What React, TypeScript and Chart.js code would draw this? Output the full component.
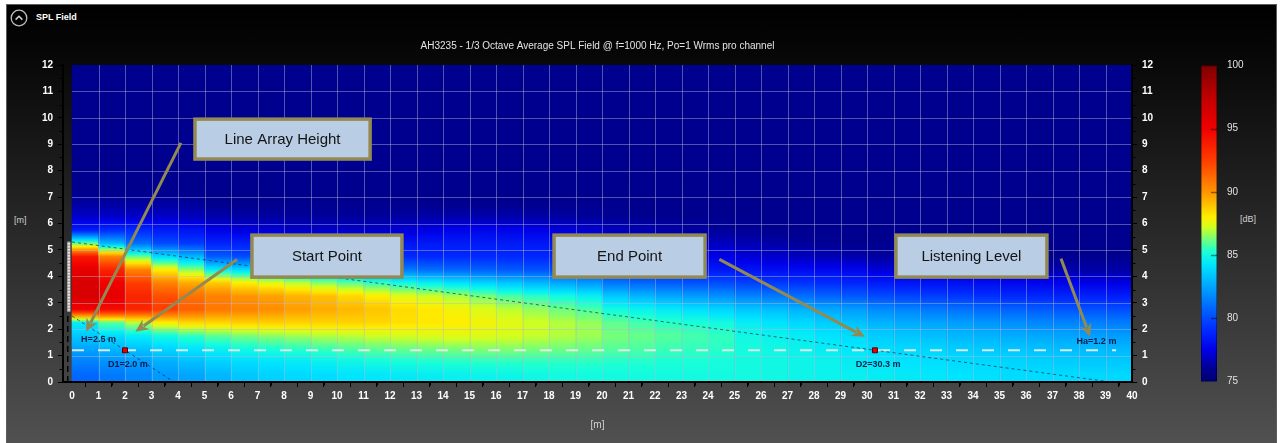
import React, { useEffect, useRef } from 'react';
import { Chart, registerables } from 'chart.js';

Chart.register(...registerables);

// ---------------- data ----------------
const chartTitle = 'AH3235 - 1/3 Octave Average SPL Field @ f=1000 Hz, Po=1 Wrms pro channel';
const xTickValues = [0, 1, 2, 3, 4, 5, 6, 7, 8, 9, 10, 11, 12, 13, 14, 15, 16, 17, 18, 19, 20, 21, 22, 23, 24, 25, 26, 27, 28, 29, 30, 31, 32, 33, 34, 35, 36, 37, 38, 39, 40];
const yTickValues = [0, 1, 2, 3, 4, 5, 6, 7, 8, 9, 10, 11, 12];
const cbTickValues = [75, 80, 85, 90, 95, 100];

// distance [m] of each field column centre
const cellCentresX = [0.5, 1.5, 2.5, 3.5, 4.5, 5.5, 6.5, 7.5, 8.5, 9.5, 10.5, 11.5, 12.5, 13.5, 14.5, 15.5, 16.5, 17.5, 18.5, 19.5, 20.5, 21.5, 22.5, 23.5, 24.5, 25.5, 26.5, 27.5, 28.5, 29.5, 30.5, 31.5, 32.5, 33.5, 34.5, 35.5, 36.5, 37.5, 38.5, 39.5];
// height [m] of each field row centre
const cellCentresY = [0.25, 0.75, 1.25, 1.75, 2.25, 2.75, 3.25, 3.75, 4.25, 4.75, 5.25, 5.75, 6.25, 6.75, 7.25, 7.75, 8.25, 8.75, 9.25, 9.75, 10.25, 10.75, 11.25, 11.75];
const fieldHeightRange = [0, 12];

// SPL [dB] per column (bottom row first)
const splByColumn: number[][] = [
  [80.8, 81.5, 82.5, 83.5, 84.5, 95, 96.2, 96.2, 95.5, 94, 86, 78.5, 77, 76.3, 76, 76, 76, 76, 76, 76, 76, 76, 76, 76],
  [81.3, 82, 83, 84, 86, 94.5, 95.5, 95, 93.5, 90.5, 83, 79, 77, 76.3, 76, 76, 76, 76, 76, 76, 76, 76, 76, 76],
  [81.7, 82.3, 83.3, 84.5, 87, 93.5, 93.5, 92.5, 90.5, 86, 81, 79, 77, 76.3, 76, 76, 76, 76, 76, 76, 76, 76, 76, 76],
  [82.2, 82.8, 83.8, 85, 88, 92.5, 92, 90.5, 88, 84, 80, 78.5, 77, 76.3, 76, 76, 76, 76, 76, 76, 76, 76, 76, 76],
  [82.5, 83.2, 84.2, 85.5, 88.5, 91.5, 91, 89.5, 86.5, 83, 79.5, 78.2, 76.8, 76.2, 76, 76, 76, 76, 76, 76, 76, 76, 76, 76],
  [83, 83.7, 84.6, 86, 88.5, 90.8, 90.5, 88.8, 84.5, 80.5, 78.8, 77.5, 76.5, 76, 76, 76, 76, 76, 76, 76, 76, 76, 76, 76],
  [83.4, 84, 85, 86.3, 88.7, 90.5, 90, 88, 84, 80, 78.7, 77.3, 76.4, 76, 76, 76, 76, 76, 76, 76, 76, 76, 76, 76],
  [83.7, 84.2, 85.2, 86.5, 88.7, 90.2, 89.7, 87.5, 83.5, 79.8, 78.6, 77.2, 76.3, 76, 76, 76, 76, 76, 76, 76, 76, 76, 76, 76],
  [83.9, 84.4, 85.4, 86.7, 88.6, 89.8, 89.3, 87, 83, 79.6, 78.5, 77, 76.2, 76, 76, 76, 76, 76, 76, 76, 76, 76, 76, 76],
  [84, 84.6, 85.6, 86.9, 88.6, 89.5, 89, 86.5, 82.5, 79.4, 78.4, 77, 76.2, 76, 76, 76, 76, 76, 76, 76, 76, 76, 76, 76],
  [84.2, 84.8, 85.8, 87, 88.6, 89.2, 88.5, 86, 82, 79.2, 78.4, 77, 76.2, 76, 76, 76, 76, 76, 76, 76, 76, 76, 76, 76],
  [84.3, 85, 86, 87.2, 88.5, 88.9, 88, 85.5, 81.5, 79, 78.3, 77, 76.2, 76, 76, 76, 76, 76, 76, 76, 76, 76, 76, 76],
  [84.4, 85.1, 86.1, 87.3, 88.3, 88.4, 87.5, 85, 81.3, 79, 78.3, 77.2, 76.3, 76, 76, 76, 76, 76, 76, 76, 76, 76, 76, 76],
  [84.5, 85.2, 86.2, 87.4, 88.1, 88.1, 87.2, 84.6, 81, 79, 78.4, 77.4, 76.4, 76, 76, 76, 76, 76, 76, 76, 76, 76, 76, 76],
  [84.6, 85.3, 86.3, 87.5, 88, 87.8, 86.8, 84.2, 80.8, 79, 78.5, 77.6, 76.5, 76, 76, 76, 76, 76, 76, 76, 76, 76, 76, 76],
  [84.7, 85.4, 86.4, 87.4, 87.8, 87.4, 86.3, 83.8, 80.6, 79, 78.5, 77.7, 76.5, 76, 76, 76, 76, 76, 76, 76, 76, 76, 76, 76],
  [84.8, 85.4, 86.4, 87.3, 87.5, 87, 85.8, 83.4, 80.4, 79, 78.5, 77.6, 76.5, 76, 76, 76, 76, 76, 76, 76, 76, 76, 76, 76],
  [84.9, 85.4, 86.3, 87.1, 87.2, 86.6, 85.4, 83, 80.2, 78.9, 78.4, 77.5, 76.4, 76, 76, 76, 76, 76, 76, 76, 76, 76, 76, 76],
  [85, 85.4, 86.2, 86.9, 86.9, 86.2, 85, 82.6, 80, 78.8, 78.3, 77.3, 76.3, 76, 76, 76, 76, 76, 76, 76, 76, 76, 76, 76],
  [85, 85.4, 86.1, 86.7, 86.6, 85.8, 84.6, 82.2, 79.8, 78.7, 78.1, 77.1, 76.2, 76, 76, 76, 76, 76, 76, 76, 76, 76, 76, 76],
  [85, 85.3, 85.9, 86.3, 86, 85, 83.5, 81.2, 79.3, 78.4, 77.8, 76.8, 76.1, 76, 76, 76, 76, 76, 76, 76, 76, 76, 76, 76],
  [85, 85.3, 85.8, 86.1, 85.7, 84.7, 83, 80.8, 79, 78.2, 77.5, 76.6, 76, 76, 76, 76, 76, 76, 76, 76, 76, 76, 76, 76],
  [85, 85.2, 85.6, 85.9, 85.4, 84.4, 82.6, 80.5, 78.8, 78, 77.2, 76.4, 76, 76, 76, 76, 76, 76, 76, 76, 76, 76, 76, 76],
  [85, 85.2, 85.5, 85.7, 85.2, 84.1, 82.3, 80.2, 78.6, 77.7, 77, 76.3, 76, 76, 76, 76, 76, 76, 76, 76, 76, 76, 76, 76],
  [85, 85.1, 85.4, 85.5, 85, 83.8, 82, 80, 78.4, 77.5, 76.8, 76.2, 76, 76, 76, 76, 76, 76, 76, 76, 76, 76, 76, 76],
  [85, 85, 85.1, 84.9, 84.5, 83.4, 81.6, 79.7, 78.2, 77.2, 76.6, 76.1, 76, 76, 76, 76, 76, 76, 76, 76, 76, 76, 76, 76],
  [84.9, 84.9, 84.9, 84.7, 84.2, 83.2, 81.3, 79.5, 78, 77, 76.4, 76, 76, 76, 76, 76, 76, 76, 76, 76, 76, 76, 76, 76],
  [84.8, 84.8, 84.7, 84.5, 83.9, 82.9, 81, 79.3, 77.9, 76.8, 76.2, 76, 76, 76, 76, 76, 76, 76, 76, 76, 76, 76, 76, 76],
  [84.7, 84.7, 84.5, 84.2, 83.6, 82.6, 80.7, 79.1, 77.8, 76.6, 76.1, 76, 76, 76, 76, 76, 76, 76, 76, 76, 76, 76, 76, 76],
  [84.6, 84.5, 84.3, 84, 83.3, 82.3, 80.4, 78.9, 77.7, 76.5, 76, 76, 76, 76, 76, 76, 76, 76, 76, 76, 76, 76, 76, 76],
  [84.5, 84.3, 84, 83.6, 82.9, 81.8, 80, 78.5, 77.2, 76.3, 76, 76, 76, 76, 76, 76, 76, 76, 76, 76, 76, 76, 76, 76],
  [84.4, 84.2, 83.9, 83.4, 82.7, 81.6, 79.8, 78.3, 77, 76.2, 76, 76, 76, 76, 76, 76, 76, 76, 76, 76, 76, 76, 76, 76],
  [84.3, 84.1, 83.8, 83.2, 82.5, 81.3, 79.6, 78.2, 76.9, 76.1, 76, 76, 76, 76, 76, 76, 76, 76, 76, 76, 76, 76, 76, 76],
  [84.2, 84, 83.6, 83, 82.3, 81.1, 79.4, 78.1, 76.8, 76.1, 76, 76, 76, 76, 76, 76, 76, 76, 76, 76, 76, 76, 76, 76],
  [84.1, 83.9, 83.5, 82.9, 82.1, 80.9, 79.2, 78, 76.7, 76, 76, 76, 76, 76, 76, 76, 76, 76, 76, 76, 76, 76, 76, 76],
  [84, 83.8, 83.4, 82.7, 81.9, 80.7, 79, 77.8, 76.6, 76, 76, 76, 76, 76, 76, 76, 76, 76, 76, 76, 76, 76, 76, 76],
  [84, 83.7, 83.3, 82.6, 81.7, 80.5, 78.9, 77.7, 76.5, 76, 76, 76, 76, 76, 76, 76, 76, 76, 76, 76, 76, 76, 76, 76],
  [84, 83.6, 83.2, 82.5, 81.6, 80.3, 78.8, 77.6, 76.5, 76, 76, 76, 76, 76, 76, 76, 76, 76, 76, 76, 76, 76, 76, 76],
  [83.9, 83.5, 83.1, 82.4, 81.5, 80.2, 78.7, 77.5, 76.4, 76, 76, 76, 76, 76, 76, 76, 76, 76, 76, 76, 76, 76, 76, 76],
  [83.9, 83.5, 83, 82.3, 81.4, 80.1, 78.6, 77.4, 76.4, 76, 76, 76, 76, 76, 76, 76, 76, 76, 76, 76, 76, 76, 76, 76],
];

// colour scale
const cmapDb = [75, 76, 77.5, 79, 80.5, 82.5, 84.2, 85.2, 86.3, 87.2, 88, 89, 90, 92.5, 95, 97.5, 100];
const cmapHex = ['#000078', '#00008f', '#0000e8', '#0028ff', '#005cff', '#00a4ff', '#00e4ff', '#18ffd8', '#78ff78', '#d0ff20', '#ffee00', '#ffc000', '#ff9400', '#ff3c00', '#f00000', '#bf0000', '#800000'];

// geometry of the set-up [m]
const xAxisMin = -0.34;
const upperRayX = [0, 39.2];
const upperRayY = [5.3, 0];
const lowerRayX = [0, 2, 3.85];
const lowerRayY = [2.5, 1.2, 0];
const listeningLineX = [0, 39.4];
const listeningLevel = 1.2;
const markerX = [2.0, 30.3];
const markerY = [1.2, 1.2];
const arrayPoleX = [-0.16, -0.16];
const arrayPoleY = [0, 2.66];
const arrayBodyX = [-0.12, -0.12];
const arrayBodyY = [2.66, 5.31];

// value labels
const pointLabels = ['H=2.5 m', 'D1=2.0 m', 'D2=30.3 m', 'Ha=1.2 m'];
const pointLabelX = [1.0, 2.11, 30.42, 38.66];
const pointLabelY = [1.59, 0.68, 0.68, 1.53];

// callouts
const calloutText = ['Line Array Height', 'Start Point', 'End Point', 'Listening Level'];
const calloutX0 = [4.64, 6.79, 18.19, 31.09];
const calloutX1 = [11.25, 12.45, 23.89, 36.79];
const calloutY0 = [8.44, 3.97, 3.97, 3.97];
const calloutY1 = [9.95, 5.56, 5.56, 5.56];
const arrowFromX = [4.11, 6.23, 24.43, 37.32];
const arrowFromY = [9.05, 4.64, 4.64, 4.67];
const arrowToX = [0.53, 2.39, 29.92, 38.42];
const arrowToY = [1.9, 1.9, 1.71, 1.71];

// ---------------- helpers ----------------
const FONT = '"Liberation Sans", Arial, sans-serif';

function hexRgb(h: string): number[] {
  return [parseInt(h.slice(1, 3), 16), parseInt(h.slice(3, 5), 16), parseInt(h.slice(5, 7), 16)];
}

function colorFor(db: number): string {
  const v = Math.max(cmapDb[0], Math.min(cmapDb[cmapDb.length - 1], db));
  let i = 0;
  while (i < cmapDb.length - 2 && v > cmapDb[i + 1]) i++;
  const t = (v - cmapDb[i]) / (cmapDb[i + 1] - cmapDb[i]);
  const a = hexRgb(cmapHex[i]);
  const b = hexRgb(cmapHex[i + 1]);
  return `rgb(${Math.round(a[0] + (b[0] - a[0]) * t)},${Math.round(a[1] + (b[1] - a[1]) * t)},${Math.round(a[2] + (b[2] - a[2]) * t)})`;
}

function columnGradient(c: any) {
  const chart = c.chart;
  const ys = chart.scales && chart.scales.y;
  if (!ys || c.type !== 'data' || c.dataIndex === undefined) return 'transparent';
  const values = splByColumn[c.dataIndex];
  const [h0, h1] = fieldHeightRange;
  const p0 = ys.getPixelForValue(h0);
  const p1 = ys.getPixelForValue(h1);
  if (!isFinite(p0) || !isFinite(p1) || p0 === p1) return colorFor(values[0]);
  const g = chart.ctx.createLinearGradient(0, p0, 0, p1);
  const span = h1 - h0;
  g.addColorStop(0, colorFor(values[0]));
  for (let r = 0; r < values.length; r++) {
    g.addColorStop((cellCentresY[r] - h0) / span, colorFor(values[r]));
    if (r < values.length - 1) {
      for (let k = 1; k < 4; k++) {
        const t = k / 4;
        const yy = cellCentresY[r] + (cellCentresY[r + 1] - cellCentresY[r]) * t;
        g.addColorStop((yy - h0) / span, colorFor(values[r] + (values[r + 1] - values[r]) * t));
      }
    }
  }
  g.addColorStop(1, colorFor(values[values.length - 1]));
  return g;
}

function colorbarGradient(c: any) {
  const chart = c.chart;
  const ys = chart.scales && chart.scales.y;
  if (!ys) return 'transparent';
  const lo = cmapDb[0];
  const hi = cmapDb[cmapDb.length - 1];
  const p0 = ys.getPixelForValue(lo);
  const p1 = ys.getPixelForValue(hi);
  if (!isFinite(p0) || !isFinite(p1) || p0 === p1) return 'transparent';
  const g = chart.ctx.createLinearGradient(0, p0, 0, p1);
  cmapDb.forEach((v, i) => g.addColorStop((v - lo) / (hi - lo), cmapHex[i]));
  return g;
}

const heatGridPlugin = {
  id: 'heatGrid',
  afterDatasetDraw(chart: any, args: any) {
    if (args.index !== 0) return;
    const { ctx, scales } = chart;
    const x = scales.x;
    const y = scales.y;
    const [h0, h1] = fieldHeightRange;
    const d0 = xTickValues[0];
    const d1 = xTickValues[xTickValues.length - 1];
    ctx.save();
    ctx.strokeStyle = 'rgba(185,185,210,0.45)';
    ctx.lineWidth = 1;
    ctx.beginPath();
    xTickValues.forEach((v) => {
      if (v <= d0 || v >= d1) return;
      const px = Math.round(x.getPixelForValue(v)) + 0.5;
      ctx.moveTo(px, y.getPixelForValue(h0));
      ctx.lineTo(px, y.getPixelForValue(h1));
    });
    yTickValues.forEach((v) => {
      if (v <= h0 || v >= h1) return;
      const py = Math.round(y.getPixelForValue(v)) + 0.5;
      ctx.moveTo(x.getPixelForValue(d0), py);
      ctx.lineTo(x.getPixelForValue(d1), py);
    });
    ctx.stroke();
    ctx.restore();
  },
};

const minorTicksPlugin = {
  id: 'minorTicks',
  afterDraw(chart: any) {
    const { ctx, scales, chartArea } = chart;
    ctx.save();
    ctx.strokeStyle = '#000';
    ctx.lineWidth = 1;
    ctx.beginPath();
    xTickValues.slice(0, -1).forEach((v) => {
      const px = Math.round(scales.x.getPixelForValue(v + 0.5)) + 0.5;
      ctx.moveTo(px, chartArea.bottom);
      ctx.lineTo(px, chartArea.bottom + 3.5);
    });
    yTickValues.slice(0, -1).forEach((v) => {
      const py = Math.round(scales.y.getPixelForValue(v + 0.5)) + 0.5;
      ctx.moveTo(chartArea.left, py);
      ctx.lineTo(chartArea.left - 3.5, py);
      ctx.moveTo(chartArea.right, py);
      ctx.lineTo(chartArea.right + 3.5, py);
    });
    ctx.stroke();
    ctx.restore();
  },
};

function drawArrow(ctx: CanvasRenderingContext2D, fx: number, fy: number, tx: number, ty: number) {
  const dx = tx - fx;
  const dy = ty - fy;
  const len = Math.hypot(dx, dy);
  const ux = dx / len;
  const uy = dy / len;
  const head = 13;
  const half = 6;
  ctx.beginPath();
  ctx.moveTo(fx, fy);
  ctx.lineTo(tx - ux * (head - 3), ty - uy * (head - 3));
  ctx.stroke();
  ctx.beginPath();
  ctx.moveTo(tx, ty);
  ctx.lineTo(tx - ux * head - uy * half, ty - uy * head + ux * half);
  ctx.lineTo(tx - ux * (head - 4), ty - uy * (head - 4));
  ctx.lineTo(tx - ux * head + uy * half, ty - uy * head - ux * half);
  ctx.closePath();
  ctx.fill();
}

const annotationPlugin = {
  id: 'setupAnnotations',
  afterDatasetsDraw(chart: any) {
    const { ctx, scales } = chart;
    const X = (v: number) => scales.x.getPixelForValue(v);
    const Y = (v: number) => scales.y.getPixelForValue(v);
    ctx.save();
    // point labels
    ctx.font = `bold 9px ${FONT}`;
    ctx.fillStyle = 'rgba(8,18,60,0.92)';
    ctx.textAlign = 'center';
    ctx.textBaseline = 'middle';
    pointLabels.forEach((t, i) => ctx.fillText(t, X(pointLabelX[i]), Y(pointLabelY[i])));
    // callout boxes
    calloutText.forEach((t, i) => {
      const x0 = X(calloutX0[i]);
      const x1 = X(calloutX1[i]);
      const y0 = Y(calloutY1[i]);
      const y1 = Y(calloutY0[i]);
      ctx.fillStyle = '#b9cde4';
      ctx.fillRect(x0, y0, x1 - x0, y1 - y0);
      ctx.strokeStyle = '#938953';
      ctx.lineWidth = 3.5;
      ctx.strokeRect(x0, y0, x1 - x0, y1 - y0);
      ctx.fillStyle = '#141414';
      ctx.font = `15px ${FONT}`;
      ctx.textAlign = 'center';
      ctx.textBaseline = 'middle';
      ctx.fillText(t, (x0 + x1) / 2, (y0 + y1) / 2 + 1);
    });
    // arrows
    ctx.strokeStyle = '#938953';
    ctx.fillStyle = '#938953';
    ctx.lineWidth = 3;
    ctx.lineCap = 'butt';
    calloutText.forEach((_, i) => {
      drawArrow(ctx, X(arrowFromX[i]), Y(arrowFromY[i]), X(arrowToX[i]), Y(arrowToY[i]));
    });
    ctx.restore();
  },
};

const colorbarTickPlugin = {
  id: 'colorbarTicks',
  afterDatasetsDraw(chart: any) {
    const { ctx, chartArea, scales } = chart;
    ctx.save();
    ctx.strokeStyle = 'rgba(0,0,0,0.45)';
    ctx.lineWidth = 1.5;
    cbTickValues.slice(1, -1).forEach((v) => {
      const py = Math.round(scales.y.getPixelForValue(v)) + 0.5;
      ctx.beginPath();
      ctx.moveTo(chartArea.right - 6, py);
      ctx.lineTo(chartArea.right, py);
      ctx.stroke();
    });
    ctx.strokeStyle = 'rgba(0,0,0,0.35)';
    ctx.lineWidth = 1;
    ctx.strokeRect(chartArea.left + 0.5, chartArea.top + 0.5, chartArea.right - chartArea.left - 1, chartArea.bottom - chartArea.top - 1);
    ctx.restore();
  },
};

const tickFont = { family: FONT, size: 10, weight: 'bold' as const };

function yAxis(position: 'left' | 'right', width: number) {
  return {
    type: 'linear' as const,
    position,
    min: yTickValues[0],
    max: yTickValues[yTickValues.length - 1],
    afterBuildTicks: (s: any) => {
      s.ticks = yTickValues.map((v) => ({ value: v }));
    },
    afterFit: (s: any) => {
      s.width = width;
    },
    ticks: { color: '#ffffff', font: tickFont, padding: 5 },
    grid: { display: true, drawOnChartArea: false, drawTicks: true, tickLength: 5, tickColor: '#000', tickWidth: 1 },
    border: { display: true, color: '#000', width: 2, z: 1 },
  };
}

function buildMainConfig(): any {
  return {
    type: 'bar',
    data: {
      datasets: [
        {
          type: 'bar',
          label: 'SPL [dB]',
          data: cellCentresX.map((x) => ({ x, y: fieldHeightRange })),
          backgroundColor: columnGradient,
          borderWidth: 0,
          barPercentage: 1,
          categoryPercentage: 1,
          grouped: false,
          order: 10,
        },
        {
          type: 'line',
          label: 'listening level',
          data: listeningLineX.map((x) => ({ x, y: listeningLevel })),
          borderColor: 'rgba(236,236,236,0.92)',
          borderWidth: 2,
          borderDash: [12, 14],
          pointRadius: 0,
          fill: false,
          order: 4,
        },
        {
          type: 'line',
          label: 'upper ray',
          data: upperRayX.map((x, i) => ({ x, y: upperRayY[i] })),
          borderColor: 'rgba(10,20,50,0.6)',
          borderWidth: 1,
          borderDash: [3, 3],
          pointRadius: 0,
          fill: false,
          order: 3,
        },
        {
          type: 'line',
          label: 'lower ray',
          data: lowerRayX.map((x, i) => ({ x, y: lowerRayY[i] })),
          borderColor: 'rgba(10,20,50,0.6)',
          borderWidth: 1,
          borderDash: [3, 3],
          pointRadius: 0,
          fill: false,
          order: 3,
        },
        {
          type: 'line',
          label: 'array pole',
          data: arrayPoleX.map((x, i) => ({ x, y: arrayPoleY[i] })),
          borderColor: '#050505',
          borderWidth: 1.5,
          borderDash: [6, 4],
          pointRadius: 0,
          fill: false,
          order: 3,
        },
        {
          type: 'line',
          label: 'line array',
          data: arrayBodyX.map((x, i) => ({ x, y: arrayBodyY[i] })),
          borderColor: '#e4e4e4',
          borderWidth: 3,
          pointRadius: 0,
          fill: false,
          order: 2,
        },
        {
          type: 'line',
          label: 'line array cabinets',
          data: arrayBodyX.map((x, i) => ({ x, y: arrayBodyY[i] })),
          borderColor: 'rgba(110,110,110,0.7)',
          borderWidth: 3,
          borderDash: [1, 2],
          pointRadius: 0,
          fill: false,
          order: 1,
        },
        {
          type: 'line',
          label: 'D1 / D2',
          data: markerX.map((x, i) => ({ x, y: markerY[i] })),
          showLine: false,
          pointStyle: 'rect',
          pointRadius: 3.5,
          pointBackgroundColor: '#e60000',
          pointBorderColor: '#5a0000',
          pointBorderWidth: 1,
          order: 0,
        },
      ],
    },
    options: {
      responsive: false,
      animation: false,
      events: [],
      layout: { padding: { left: 0, right: 108, top: 0, bottom: 0 } },
      plugins: {
        legend: { display: false },
        tooltip: { enabled: false },
        title: {
          display: true,
          text: chartTitle,
          color: '#e4e4e4',
          font: { family: FONT, size: 10, weight: 'normal', lineHeight: 1.2 },
          padding: { top: 40, bottom: 13 },
          fullSize: false,
        },
      },
      scales: {
        x: {
          type: 'linear',
          position: 'bottom',
          min: xAxisMin,
          max: xTickValues[xTickValues.length - 1],
          offset: false,
          afterBuildTicks: (s: any) => {
            s.ticks = xTickValues.map((v) => ({ value: v }));
          },
          afterFit: (s: any) => {
            s.height = 61;
          },
          ticks: { color: '#ffffff', font: tickFont, padding: 3, autoSkip: false, maxRotation: 0 },
          grid: { display: true, drawOnChartArea: false, drawTicks: true, tickLength: 5, tickColor: '#000', tickWidth: 1 },
          border: { display: true, color: '#000', width: 2, z: 1 },
          title: { display: true, text: '[m]', color: '#d2d2d2', font: { family: FONT, size: 10 }, padding: { top: 0, bottom: 12 } },
        },
        y: yAxis('left', 63),
        y2: yAxis('right', 40),
      },
    },
    plugins: [heatGridPlugin, annotationPlugin, minorTicksPlugin],
  };
}

function buildColorbarConfig(): any {
  return {
    type: 'bar',
    data: {
      labels: ['SPL'],
      datasets: [
        {
          label: 'colour scale',
          data: [[cmapDb[0], cmapDb[cmapDb.length - 1]]],
          backgroundColor: colorbarGradient,
          borderWidth: 0,
          barPercentage: 1,
          categoryPercentage: 1,
        },
      ],
    },
    options: {
      responsive: false,
      animation: false,
      events: [],
      layout: { padding: { left: 11, right: 0, top: 65.5, bottom: 61.5 } },
      plugins: { legend: { display: false }, tooltip: { enabled: false } },
      scales: {
        x: { display: false },
        y: {
          type: 'linear',
          position: 'right',
          min: cbTickValues[0],
          max: cbTickValues[cbTickValues.length - 1],
          afterBuildTicks: (s: any) => {
            s.ticks = cbTickValues.map((v) => ({ value: v }));
          },
          afterFit: (s: any) => {
            s.width = 63;
          },
          ticks: { color: '#e2e2e2', font: { family: FONT, size: 10, weight: 'normal' }, padding: 10 },
          grid: { display: false, drawOnChartArea: false, drawTicks: false },
          border: { display: false },
        },
      },
    },
    plugins: [colorbarTickPlugin],
  };
}

export default function App() {
  const mainRef = useRef<HTMLCanvasElement>(null);
  const cbRef = useRef<HTMLCanvasElement>(null);

  useEffect(() => {
    const main = new Chart(mainRef.current as HTMLCanvasElement, buildMainConfig());
    const cb = new Chart(cbRef.current as HTMLCanvasElement, buildColorbarConfig());
    return () => {
      main.destroy();
      cb.destroy();
    };
  }, []);

  return (
    <div style={{ position: 'fixed', left: 0, top: 0, width: 1280, height: 443, background: '#ffffff', overflow: 'hidden', fontFamily: FONT }}>
      <div
        style={{
          position: 'absolute',
          left: 6,
          top: 4,
          width: 1269,
          height: 445,
          border: '1px solid #5c5c5c',
          background: 'linear-gradient(to bottom, #000000 0px, #060606 45px, #525252 445px)',
        }}
      />
      <svg width={20} height={20} style={{ position: 'absolute', left: 9, top: 8 }}>
        <circle cx={10} cy={10} r={7.8} fill="none" stroke="#bdbdbd" strokeWidth={1.3} />
        <polyline points="6.6,11.6 10,8.2 13.4,11.6" fill="none" stroke="#d0d0d0" strokeWidth={1.5} />
      </svg>
      <div style={{ position: 'absolute', left: 36, top: 12, color: '#ffffff', fontSize: 9, fontWeight: 'bold', lineHeight: '11px' }}>SPL Field</div>
      <div style={{ position: 'absolute', left: 14, top: 215, color: '#d0d0d0', fontSize: 9, lineHeight: '11px' }}>[m]</div>
      <div style={{ position: 'absolute', left: 1240, top: 214, color: '#d0d0d0', fontSize: 9, lineHeight: '11px' }}>[dB]</div>
      <canvas ref={mainRef} width={1280} height={443} style={{ position: 'absolute', left: 0, top: 0 }} />
      <canvas ref={cbRef} width={90} height={443} style={{ position: 'absolute', left: 1190, top: 0 }} />
    </div>
  );
}
